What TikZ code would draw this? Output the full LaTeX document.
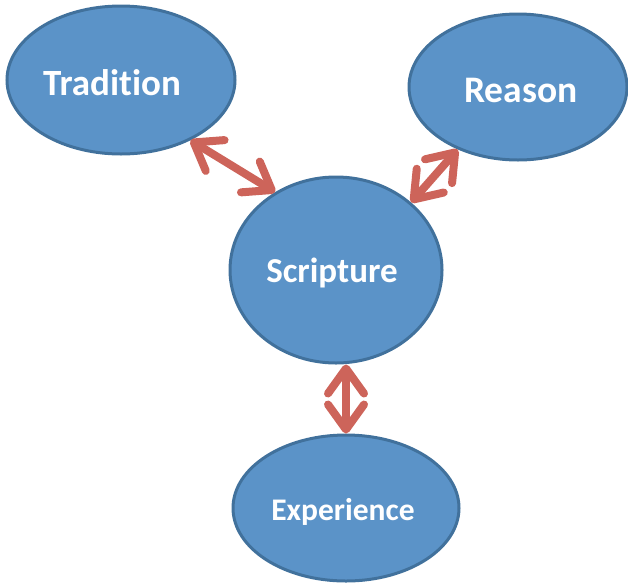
\documentclass[tikz,border=0pt]{standalone}
\usepackage{fontspec}
\setmainfont{Carlito}[Ligatures=NoCommon]
\usetikzlibrary{shapes.geometric,arrows.meta}

\definecolor{topicblue}{RGB}{91,147,200}
\definecolor{topicedge}{RGB}{65,113,156}
\definecolor{linkred}{RGB}{205,100,90}

\begin{document}
\begin{tikzpicture}[x=1pt, y=-1pt]
        \tikzstyle{topic}=[ellipse, draw=topicedge, fill=topicblue, line width=3pt, inner sep=0pt];
        \tikzstyle{word}=[text=white, font=\bfseries, inner sep=0pt];
        \tikzstyle{link}=[-, line width=8pt, linkred, {Straight Barb[round, length=25pt, width=36pt]}-{Straight Barb[round, length=25pt, width=36pt]}];

        \useasboundingbox (0, 0) rectangle (628, 582);

        \node[topic, minimum width=228pt, minimum height=148pt,
              label={[word, xshift=-9pt, yshift=-3pt]center:\fontsize{37}{40}\selectfont Tradition}] (trad) at (121, 80) {};
        \node[topic, minimum width=218pt, minimum height=146pt,
              label={[word, xshift=3pt, yshift=-3pt]center:\fontsize{37.5}{40}\selectfont Reason}] (reas) at (518, 87) {};
        \node[topic, minimum width=212pt, minimum height=186pt,
              label={[word, xshift=-4pt, yshift=-3pt]center:\fontsize{35}{38}\selectfont Scripture}] (scrip) at (336, 270) {};
        \node[topic, minimum width=226pt, minimum height=146pt,
              label={[word, xshift=-3pt, yshift=-4pt]center:\fontsize{31.5}{36}\selectfont Experience}] (exp) at (346, 508) {};

        \draw (trad.-41) edge[link] (scrip.128);
        \draw (reas.226) edge[link] (scrip.42);
        \draw (exp.north |- scrip.south) edge[link] (exp.north);
\end{tikzpicture}
\end{document}
